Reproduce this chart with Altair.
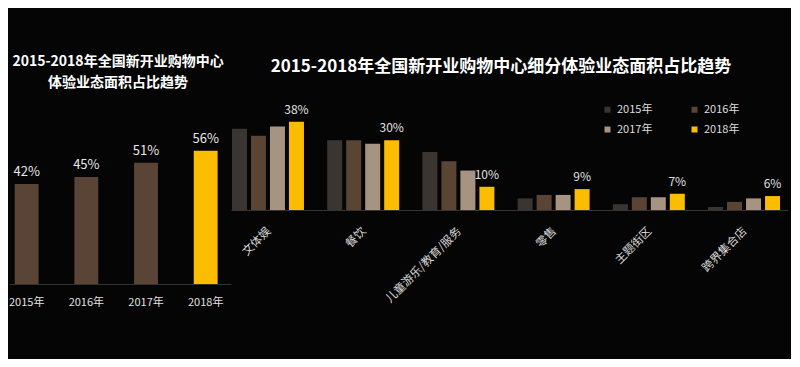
import altair as alt
import pandas as pd

FONT = "Noto Sans CJK SC"
BG = "#050505"
YELLOW = "#fcbc00"
BROWN = "#5a4436"

# ---- data ----
years = ["2015年", "2016年", "2017年", "2018年"]
overall = [42, 45, 51, 56]

categories = ["文体娱", "餐饮", "儿童游乐/教育/服务", "零售", "主题街区", "跨界集合店"]
s2015 = [35, 30, 25, 5, 2.5, 1.3]
s2016 = [32, 30, 21, 6.5, 5.5, 3.5]
s2017 = [36, 28.5, 17, 6.5, 5.5, 5]
s2018 = [38, 30, 10, 9, 7, 6]
labels2018 = ["38%", "30%", "10%", "9%", "7%", "6%"]

year_colors = ["#3a3530", "#5a4434", "#a69382", YELLOW]

left_title = ["2015-2018年全国新开业购物中心", "体验业态面积占比趋势"]
right_title = "2015-2018年全国新开业购物中心细分体验业态面积占比趋势"

# ---- left panel ----
df_left = pd.DataFrame({"year": years, "value": overall,
                        "label": [f"{v}%" for v in overall]})

xl = alt.X("year:N", sort=years,
           scale=alt.Scale(paddingInner=0.6, paddingOuter=0.16, align=0.3),
           axis=alt.Axis(title=None, labelAngle=0, ticks=False, tickSize=0,
                         domainColor="#333333", labelColor="#e0e0e0",
                         labelFontSize=11, labelPadding=12, labelFont=FONT))
yl = alt.Y("value:Q", scale=alt.Scale(domain=[0, 116]), axis=None)

left_base = alt.Chart(df_left).encode(x=xl, y=yl)
left_bars = left_base.mark_bar().encode(
    color=alt.condition(alt.datum.year == "2018年", alt.value(YELLOW), alt.value(BROWN))
)
left_text = left_base.mark_text(dy=-5, baseline="bottom", fontSize=13,
                                color="#e8e8e8", font=FONT).encode(text="label:N")

lt1 = alt.Chart(pd.DataFrame({"t": [left_title[0]]})).mark_text(
    fontSize=14, fontWeight="bold", color="#ffffff", font=FONT
).encode(text="t:N", x=alt.value(109), y=alt.value(54))
lt2 = alt.Chart(pd.DataFrame({"t": [left_title[1]]})).mark_text(
    fontSize=14, fontWeight="bold", color="#ffffff", font=FONT
).encode(text="t:N", x=alt.value(109), y=alt.value(75))

left = alt.layer(left_bars, left_text, lt1, lt2).properties(width=222, height=276)

# ---- right panel ----
rows = []
for i, c in enumerate(categories):
    for y, series in zip(years, [s2015, s2016, s2017, s2018]):
        rows.append({"category": c, "year": y, "value": series[i],
                     "label": labels2018[i] if y == "2018年" else ""})
df_right = pd.DataFrame(rows)

xr = alt.X("category:N", sort=categories,
           scale=alt.Scale(paddingInner=0.244, paddingOuter=0.047, align=0.11),
           axis=alt.Axis(title=None, labelAngle=-45, ticks=False, tickSize=0,
                         domainColor="#333333", labelColor="#d8d8d8",
                         labelFontSize=11.5, labelPadding=15, labelOffset=-3,
                         labelFont=FONT))
xo = alt.XOffset("year:N", sort=years,
                 scale=alt.Scale(paddingInner=0.21, paddingOuter=0))
yr = alt.Y("value:Q", scale=alt.Scale(domain=[0, 87]), axis=None)

right_base = alt.Chart(df_right).encode(x=xr, xOffset=xo, y=yr)
right_bars = right_base.mark_bar().encode(
    color=alt.Color("year:N", sort=years,
                    scale=alt.Scale(domain=years, range=year_colors),
                    legend=alt.Legend(title=None, orient="none", legendX=593, legendY=96,
                                      direction="horizontal",
                                      columns=2, columnPadding=36, rowPadding=8,
                                      symbolType="square", symbolSize=36,
                                      symbolStrokeWidth=0, labelColor="#dddddd",
                                      labelFontSize=11, labelFont=FONT,
                                      symbolOffset=0, labelOffset=4))
)
right_text = right_base.mark_text(dy=-5, baseline="bottom", fontSize=12,
                                  color="#e0e0e0", font=FONT).encode(
    text="label:N"
).transform_filter(alt.datum.year == "2018年")

rt = alt.Chart(pd.DataFrame({"t": [right_title]})).mark_text(
    fontSize=17, fontWeight="bold", color="#ffffff", font=FONT
).encode(text="t:N", x=alt.value(270), y=alt.value(59))

right = alt.layer(right_bars, right_text, rt).properties(width=557, height=202)

chart = alt.hconcat(left, right, spacing=0).properties(
    padding={"left": 0, "top": 0, "right": 3, "bottom": 52}, background=BG
).configure(font=FONT).configure_view(stroke=None)

chart.save("out.html", embed_options={"renderer": "svg", "actions": False})
